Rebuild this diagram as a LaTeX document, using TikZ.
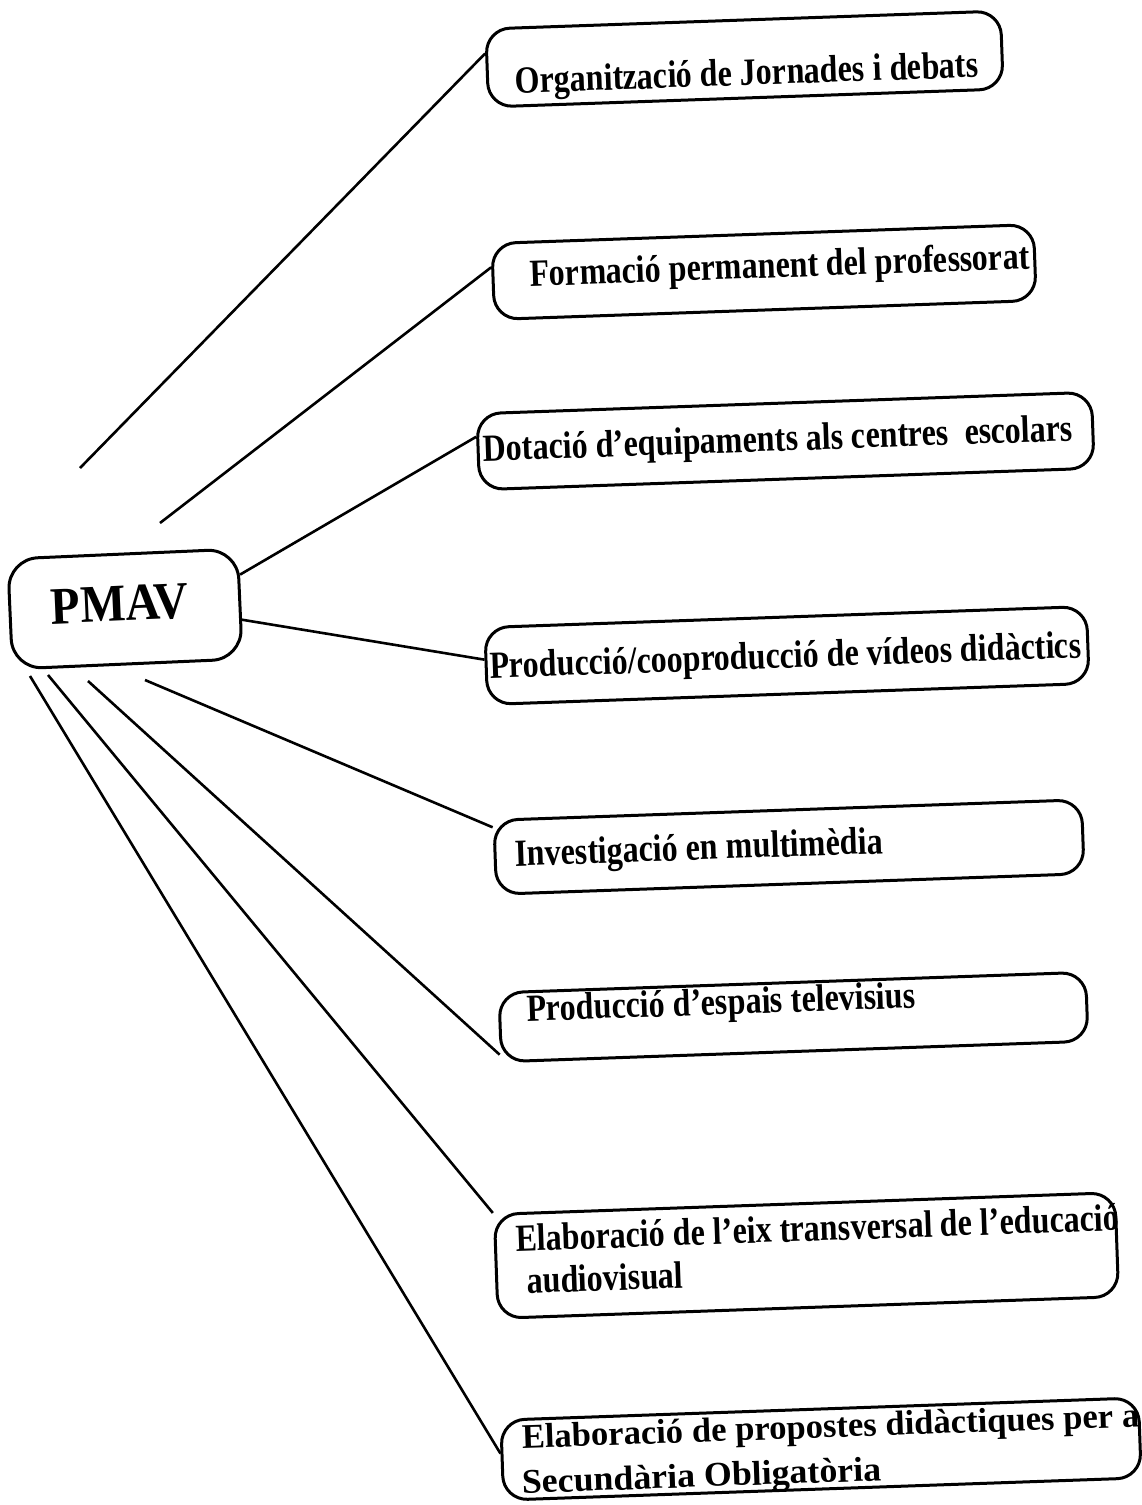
\documentclass[tikz,border=0pt]{standalone}
\usepackage{fontspec}
\usepackage{graphicx}
\setmainfont{Liberation Serif}
\usetikzlibrary{calc}

% labels in this chart are set in a tall, narrow bold face
\newcommand{\tallbox}[2][1.2]{\scalebox{1}[#1]{#2}}
\newcommand{\widebox}[2][1.12]{\scalebox{#1}[1.08]{#2}}

\tikzset{
  box/.style={draw, line width=3pt, rounded corners=24pt, rotate=2, inner sep=0pt},
  hub/.style={draw, line width=3pt, rounded corners=30pt, rotate=2.5, inner sep=0pt},
  lbl/.style={font=\fontsize{32}{38}\selectfont\bfseries, anchor=mid west, inner sep=0pt, rotate=2},
  link/.style={line width=2.6pt}
}

\begin{document}
\begin{tikzpicture}[x=1pt,y=-1pt]
  \fill[white] (0,0) rectangle (1142,1505);
  \useasboundingbox (0,0) rectangle (1142,1505);

  % central hub
  \node[hub, minimum width=230pt, minimum height=110pt] (p) at (125,609) {};
  \node[font=\fontsize{48}{56}\selectfont\bfseries, inner sep=0pt, rotate=2.5] (pt) at (120,604) {\tallbox[1.1]{PMAV}};

  % activity boxes
  \node[box, minimum width=515pt, minimum height=78pt] (b1) at (744.5,59) {};
  \node[box, minimum width=542pt, minimum height=76pt] (b2) at (764,272) {};
  \node[box, minimum width=615pt, minimum height=76pt] (b3) at (785.5,441) {};
  \node[box, minimum width=602pt, minimum height=77pt] (b4) at (787,655.5) {};
  \node[box, minimum width=588pt, minimum height=74pt] (b5) at (789,847) {};
  \node[box, minimum width=587pt, minimum height=69pt] (b6) at (793.5,1017) {};
  \node[box, minimum width=621pt, minimum height=104pt] (b7) at (806.5,1255.5) {};
  \node[box, minimum width=638pt, minimum height=80pt] (b8) at (821,1449) {};

  % box texts
  \node[lbl] (t1) at (515,91) {\tallbox{Organització de Jornades i debats}};
  \node[lbl] (t2) at (530,284) {\tallbox{Formació permanent del professorat}};
  \node[lbl] (t3) at (483,459) {\tallbox{Dotació d’equipaments als centres~ escolars}};
  \node[lbl] (t4) at (490,676) {\tallbox{Producció/cooproducció de vídeos didàctics}};
  \node[lbl] (t5) at (515,864) {\tallbox{Investigació en multimèdia}};
  \node[lbl] (t6) at (527,1019) {\tallbox{Producció d’espais televisius}};
  \node[lbl] (t7a) at (516,1249) {\tallbox{Elaboració de l’eix transversal de l’educació}};
  \node[lbl] (t7b) at (527,1291) {\tallbox{audiovisual}};
  \node[lbl] (t8a) at (522,1446) {\widebox[1.08]{\makebox[572pt][s]{Elaboració de propostes didàctiques per a}}};
  \node[lbl] (t8b) at (522,1491) {\widebox{Secundària Obligatòria}};

  % free ends of the spokes
  \coordinate (s1) at (80,468);
  \coordinate (s2) at (160,523);
  \coordinate (s5) at (145,680);
  \coordinate (s6) at (88,681);
  \coordinate (s7) at (48,675);
  \coordinate (s8) at (30,676);

  % spokes
  \draw[link] (s1) -- ($(b1.north west)!0.32!(b1.south west)$);
  \draw[link] (s2) -- ($(b2.north west)!0.32!(b2.south west)$);
  \draw[link] ($(p.north east)!0.24!(p.south east)$) -- ($(b3.north west)!0.31!(b3.south west)$);
  \draw[link] ($(p.north east)!0.64!(p.south east)$) -- ($(b4.north west)!0.42!(b4.south west)$);
  \draw[link] (s5) -- ($(b5.north west)!0.11!(b5.south west)$);
  \draw[link] (s6) -- ($(b6.north west)!0.88!(b6.south west)$);
  \draw[link] (s7) -- (b7.north west);
  \draw[link] (s8) -- ($(b8.north west)!0.42!(b8.south west)$);
\end{tikzpicture}
\end{document}
